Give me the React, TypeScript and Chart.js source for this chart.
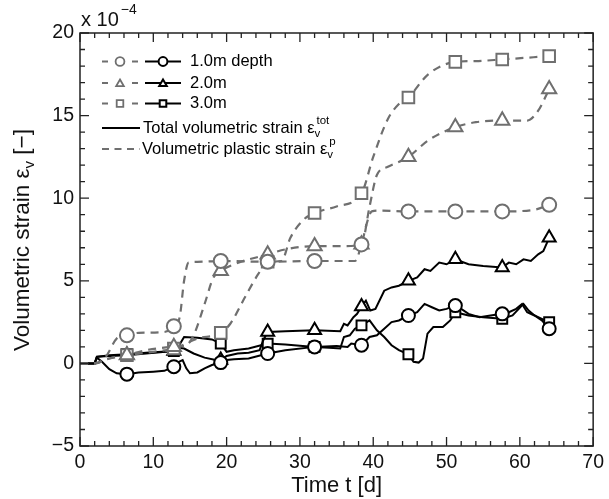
import React, { useEffect, useRef } from 'react';
import { Chart, registerables } from 'chart.js';
Chart.register(...registerables);

// ---- data (strain in 1e-4, time in days) ----
const MARK_DAYS = [6.4, 12.8, 19.2, 25.6, 32, 38.4, 44.8, 51.2, 57.6, 64];

// Total volumetric strain, 1.0 m depth (circles)
const T1_T = [0, 2, 2.3, 3, 4, 5, 6.4, 8, 10, 11.5, 12.8, 13.5, 14, 14.5, 15, 16, 17, 18, 19.2, 20, 21, 23, 25.6, 28, 32, 35, 36.5, 37, 38.4, 39.5, 40.5, 41.5, 42.5, 43.5, 44.8, 46, 47, 48, 49, 50, 51.2, 52, 53, 54.5, 56, 57.6, 58.5, 59.5, 60.3, 61, 62, 63, 64];
const T1_V = [0, 0, 0.35, 0.1, -0.35, -0.6, -0.65, -0.55, -0.5, -0.45, -0.2, 0.1, 0.2, -0.3, -0.6, -0.55, -0.3, -0.1, 0.05, 0.2, 0.25, 0.3, 0.6, 0.8, 1.0, 1.05, 1.0, 1.2, 1.1, 1.6, 1.7, 2.1, 2.5, 2.6, 2.9, 3.1, 3.6, 3.4, 3.2, 3.3, 3.5, 3.3, 3.0, 2.8, 2.9, 3.0, 3.1, 3.3, 3.6, 3.1, 2.9, 2.6, 2.1];

// Total volumetric strain, 2.0 m (triangles)
const T2_T = [0, 2, 2.3, 4, 6.4, 9, 12.8, 13.5, 14.2, 15.5, 17, 18.5, 19.2, 20, 21.5, 23, 24.5, 25, 25.6, 28, 32, 35.5, 36, 36.5, 37.3, 37.8, 38.4, 39, 39.6, 40.3, 41.5, 42.5, 43.5, 44.8, 46, 47, 47.8, 49, 50, 51.2, 53, 55, 57.6, 58.5, 59.5, 60.5, 61.5, 62.5, 63.2, 64];
const T2_V = [0, 0, 0.4, 0.45, 0.5, 0.6, 0.75, 0.95, 0.9, 0.6, 0.35, 0.2, 0.2, 0.45, 0.6, 0.65, 0.8, 1.4, 1.9, 1.95, 2.0, 1.95, 2.4, 2.3, 2.8, 3.0, 3.45, 3.8, 3.2, 3.3, 4.4, 4.6, 4.7, 5.0, 5.2, 5.7, 5.6, 6.1, 6.0, 6.3, 6.0, 5.9, 5.8, 6.1, 6.0, 6.3, 6.2, 6.6, 6.8, 7.6];

// Total volumetric strain, 3.0 m (squares)
const T3_T = [0, 2, 2.3, 4, 6.4, 9, 12.8, 13.4, 14.2, 16, 18, 19.2, 20, 21, 23, 25.6, 28, 32, 34, 35.5, 36, 36.8, 37.5, 38.4, 39.5, 40.5, 41.5, 42.5, 43.5, 44.8, 45.5, 46.2, 46.8, 47.4, 48.2, 49.5, 50.5, 51.2, 53, 55, 57.6, 59, 60.5, 61.2, 62, 63, 64];
const T3_V = [0, 0, 0.4, 0.5, 0.55, 0.65, 0.75, 1.0, 1.6, 1.55, 1.45, 1.2, 0.7, 0.8, 0.9, 1.2, 1.15, 1.0, 0.95, 0.9, 1.6, 1.7, 2.1, 2.3, 2.6, 2.0, 1.6, 1.1, 0.8, 0.55, 0.1, 0.05, 0.3, 1.8, 2.2, 2.2, 2.6, 3.1, 2.9, 2.8, 2.7, 2.9, 3.6, 3.2, 2.9, 2.7, 2.5];

// Volumetric plastic strain, 1.0 m (circles)
const P1_T = [0, 2, 3.5, 5, 6.4, 8, 11.5, 12.8, 13.6, 14.2, 14.8, 16, 19.2, 25.6, 32, 37.5, 38.4, 39.2, 39.8, 41, 44.8, 51.2, 57.6, 62, 64];
const P1_V = [0, 0, 0.4, 1.5, 1.7, 1.85, 1.9, 2.25, 2.8, 5.0, 6.1, 6.15, 6.2, 6.15, 6.2, 6.2, 7.2, 8.6, 9.2, 9.25, 9.2, 9.2, 9.2, 9.3, 9.6];

// Volumetric plastic strain, 2.0 m (triangles)
const P2_T = [0, 2, 4, 6.4, 9, 12.8, 14.5, 15.5, 17, 18.2, 19.2, 21, 25.6, 28, 32, 36, 38.4, 39.5, 40.5, 42, 44.8, 47.5, 51.2, 54, 57.6, 61, 62.5, 64];
const P2_V = [0, 0, 0.3, 0.5, 0.8, 1.0, 1.1, 1.7, 3.6, 5.2, 5.6, 6.0, 6.6, 6.9, 7.1, 7.1, 7.2, 9.5, 11.4, 11.9, 12.5, 13.5, 14.3, 14.6, 14.7, 14.7, 15.3, 16.6];

// Volumetric plastic strain, 3.0 m (squares)
const P3_T = [0, 2, 4, 6.4, 10, 12.8, 16, 19.2, 20.5, 22.5, 24.3, 25.6, 27.5, 28.7, 30.5, 32, 35, 38.4, 40, 42, 43.5, 44.8, 47.5, 51.2, 54, 57.6, 64];
const P3_V = [0, 0, 0.3, 0.5, 0.7, 0.9, 1.5, 1.85, 2.4, 4.0, 5.4, 6.15, 6.2, 7.6, 8.7, 9.1, 9.5, 10.3, 12.5, 14.8, 15.7, 16.1, 17.5, 18.25, 18.3, 18.4, 18.6];

const X_TICKS = [0, 10, 20, 30, 40, 50, 60, 70];
const Y_TICKS = [-5, 0, 5, 10, 15, 20];
const LEGEND_DEPTHS = ['1.0m depth', '2.0m', '3.0m'];

const GRAY = '#6f6f6f';
const FONT = '"Liberation Sans", Arial, sans-serif';

function pts(t: number[], v: number[]) {
  return t.map((x, i) => ({ x, y: v[i] }));
}
const isMark = (x: number) => MARK_DAYS.some((d) => Math.abs(d - x) < 1e-6);

function drawMarker(ctx: CanvasRenderingContext2D, style: string, x: number, y: number, r: number) {
  ctx.beginPath();
  if (style === 'circle') {
    ctx.arc(x, y, r, 0, Math.PI * 2);
  } else if (style === 'triangle') {
    const a = -Math.PI / 2;
    for (let k = 0; k < 3; k++) {
      const ang = a + (k * 2 * Math.PI) / 3;
      const px = x + Math.cos(ang) * r;
      const py = y + Math.sin(ang) * r + r * 0.2;
      if (k === 0) ctx.moveTo(px, py); else ctx.lineTo(px, py);
    }
    ctx.closePath();
  } else {
    const s = r * 0.75;
    ctx.rect(x - s, y - s, 2 * s, 2 * s);
  }
  ctx.fillStyle = '#fff';
  ctx.fill();
  ctx.stroke();
}

const framePlugin = {
  id: 'frame',
  afterDraw(chart: any) {
    const { ctx, chartArea: a, scales } = chart;
    const xs = scales.x, ys = scales.y;
    ctx.save();
    ctx.strokeStyle = '#222';
    ctx.lineWidth = 1.5;
    ctx.strokeRect(a.left, a.top, a.right - a.left, a.bottom - a.top);
    ctx.lineWidth = 1.3;
    for (let v = 0; v <= 70; v += 2) {
      const px = xs.getPixelForValue(v);
      const len = v % 10 === 0 ? 9 : 5;
      ctx.beginPath();
      ctx.moveTo(px, a.bottom); ctx.lineTo(px, a.bottom - len);
      ctx.moveTo(px, a.top); ctx.lineTo(px, a.top + len);
      ctx.stroke();
    }
    for (let v = -5; v <= 20; v += 1) {
      const py = ys.getPixelForValue(v);
      const len = v % 5 === 0 ? 9 : 5;
      ctx.beginPath();
      ctx.moveTo(a.left, py); ctx.lineTo(a.left + len, py);
      ctx.moveTo(a.right, py); ctx.lineTo(a.right - len, py);
      ctx.stroke();
    }
    // exponent label
    ctx.fillStyle = '#111';
    ctx.textBaseline = 'alphabetic';
    ctx.textAlign = 'left';
    ctx.font = `20px ${FONT}`;
    ctx.fillText('x 10', a.left + 1, a.top - 7);
    const w10 = ctx.measureText('x 10').width;
    ctx.font = `14px ${FONT}`;
    ctx.fillText('\u22124', a.left + 3 + w10, a.top - 19);

    // x title
    ctx.font = `22px ${FONT}`;
    ctx.textAlign = 'center';
    ctx.textBaseline = 'middle';
    ctx.fillText('Time t [d]', (a.left + a.right) / 2, 486);

    // y title (rotated with subscript)
    ctx.save();
    ctx.translate(23, 240);
    ctx.rotate(-Math.PI / 2);
    ctx.textAlign = 'left';
    ctx.textBaseline = 'middle';
    const big = `22.5px ${FONT}`, small = `15px ${FONT}`;
    ctx.font = big;
    const p1 = 'Volumetric strain \u03b5';
    const p3 = ' [\u2212]';
    const w1 = ctx.measureText(p1).width, w3 = ctx.measureText(p3).width;
    ctx.font = small;
    const w2 = ctx.measureText('v').width;
    let x0 = -(w1 + w2 + w3) / 2;
    ctx.font = big; ctx.fillText(p1, x0, 0); x0 += w1;
    ctx.font = small; ctx.fillText('v', x0, 7); x0 += w2;
    ctx.font = big; ctx.fillText(p3, x0, 0);
    ctx.restore();

    // legend
    const styles = ['circle', 'triangle', 'rect'];
    const rows = [61.5, 83, 103.5];
    ctx.textAlign = 'left';
    ctx.textBaseline = 'middle';
    for (let i = 0; i < 3; i++) {
      const y = rows[i];
      ctx.strokeStyle = GRAY; ctx.lineWidth = 2;
      ctx.beginPath();
      ctx.moveTo(102, y); ctx.lineTo(108, y);
      ctx.moveTo(132, y); ctx.lineTo(138, y);
      ctx.stroke();
      ctx.lineWidth = 1.8;
      drawMarker(ctx, styles[i], 120, y, 4.4);
      ctx.strokeStyle = '#000'; ctx.lineWidth = 2;
      ctx.beginPath(); ctx.moveTo(145, y); ctx.lineTo(181, y); ctx.stroke();
      drawMarker(ctx, styles[i], 163, y, 4.4);
      ctx.fillStyle = '#000';
      ctx.font = `16.5px ${FONT}`;
      ctx.fillText(LEGEND_DEPTHS[i], 190, y);
    }
    const drawEps = (x: number, y: number, label: string, sup: string) => {
      ctx.font = `16.5px ${FONT}`;
      ctx.fillText(label, x, y);
      const xx = x + ctx.measureText(label).width;
      ctx.font = `11.5px ${FONT}`;
      ctx.fillText('v', xx, y + 6);
      ctx.fillText(sup, xx + 2, y - 7);
    };
    ctx.strokeStyle = '#000'; ctx.lineWidth = 2;
    ctx.beginPath(); ctx.moveTo(102, 128); ctx.lineTo(140, 128); ctx.stroke();
    drawEps(143, 128, 'Total volumetric strain \u03b5', 'tot');
    ctx.strokeStyle = GRAY;
    ctx.setLineDash([7, 5.5]);
    ctx.beginPath(); ctx.moveTo(102, 149); ctx.lineTo(140, 149); ctx.stroke();
    ctx.setLineDash([]);
    drawEps(142, 149, 'Volumetric plastic strain \u03b5', 'p');
    ctx.restore();
  },
};

function total(t: number[], v: number[], style: string, r: number) {
  return {
    data: pts(t, v),
    borderColor: '#000',
    borderWidth: 2,
    tension: 0,
    pointStyle: style,
    pointRadius: (c: any) => (c.raw && isMark(c.raw.x) ? r : 0),
    pointBorderColor: '#000',
    pointBackgroundColor: '#fff',
    pointBorderWidth: 2,
  };
}
function plastic(t: number[], v: number[], style: string, r: number) {
  return {
    data: pts(t, v),
    borderColor: GRAY,
    borderWidth: 2.2,
    borderDash: [8, 6],
    cubicInterpolationMode: 'monotone',
    pointStyle: style,
    pointRadius: (c: any) => (c.raw && isMark(c.raw.x) ? r : 0),
    pointBorderColor: GRAY,
    pointBackgroundColor: '#fff',
    pointBorderWidth: 2,
  };
}

export default function App() {
  const ref = useRef<HTMLCanvasElement>(null);
  useEffect(() => {
    if (!ref.current) return;
    const chart = new Chart(ref.current, {
      type: 'line',
      data: {
        datasets: [
          plastic(P1_T, P1_V, 'circle', 7),
          plastic(P2_T, P2_V, 'triangle', 8.2),
          plastic(P3_T, P3_V, 'rect', 8.2),
          total(T1_T, T1_V, 'circle', 6.5),
          total(T2_T, T2_V, 'triangle', 7.5),
          total(T3_T, T3_V, 'rect', 7),
        ] as any,
      },
      options: {
        animation: false,
        responsive: false,
        devicePixelRatio: 1,
        layout: { padding: { top: 33, right: 9, left: 0, bottom: 0 } },
        plugins: { legend: { display: false }, tooltip: { enabled: false } },
        scales: {
          x: {
            type: 'linear',
            min: 0,
            max: 70,
            afterBuildTicks: (s: any) => { s.ticks = X_TICKS.map((v) => ({ value: v })); },
            afterFit: (s: any) => { s.height = 53; },
            grid: { display: false, drawTicks: false },
            border: { display: false },
            ticks: { color: '#111', padding: 5, font: { size: 19.5, family: FONT }, maxRotation: 0 },
          },
          y: {
            type: 'linear',
            min: -5,
            max: 20,
            afterBuildTicks: (s: any) => { s.ticks = Y_TICKS.map((v) => ({ value: v })); },
            afterFit: (s: any) => { s.width = 80; },
            grid: { display: false, drawTicks: false },
            border: { display: false },
            ticks: {
              color: '#111',
              padding: 6,
              font: { size: 19.5, family: FONT },
              callback: (v: any) => (v < 0 ? '\u2212' + Math.abs(v) : String(v)),
            },
          },
        },
      },
      plugins: [framePlugin],
    });
    return () => chart.destroy();
  }, []);
  return (
    <div style={{ position: 'absolute', left: 0, top: 0, width: 609, height: 499, background: '#fff' }}>
      <canvas ref={ref} width={609} height={499} style={{ width: 609, height: 499 }} />
    </div>
  );
}
